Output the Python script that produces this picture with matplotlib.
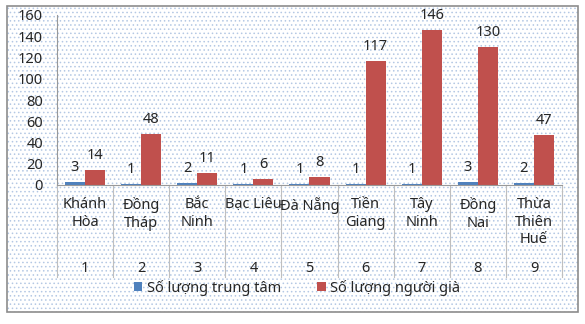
import matplotlib.pyplot as plt
import matplotlib.patches as mpatches
import numpy as np

plt.rcParams['font.family'] = ['Noto Sans', 'DejaVu Sans']
plt.rcParams['hatch.linewidth'] = 0.6

# Dữ liệu
tinh = ['Khánh\nHòa', 'Đồng\nTháp', 'Bắc\nNinh', 'Bạc Liêu', 'Đà Nẵng',
        'Tiền\nGiang', 'Tây\nNinh', 'Đồng\nNai', 'Thừa\nThiên\nHuế']
stt = ['1', '2', '3', '4', '5', '6', '7', '8', '9']
trung_tam = [3, 1, 2, 1, 1, 1, 1, 3, 2]
nguoi_gia = [14, 48, 11, 6, 8, 117, 146, 130, 47]
yticks = [0, 20, 40, 60, 80, 100, 120, 140, 160]

blue = '#4F81BD'
red = '#C0504D'
txt = '#262626'
W, H = 585, 324

fig = plt.figure(figsize=(W / 100, H / 100), dpi=100, facecolor='white')

# nền chấm và khung
bg = mpatches.Rectangle((7 / W, 1 - 312 / H), 571 / W, 306 / H, transform=fig.transFigure,
                        facecolor='white', edgecolor='#b4c8e4', hatch='....', linewidth=0, zorder=-5)
fig.patches.append(bg)
frame = mpatches.Rectangle((7 / W, 1 - 312 / H), 571 / W, 306 / H, transform=fig.transFigure,
                           facecolor='none', edgecolor='#8c8c8c', linewidth=1.2, zorder=5)
fig.patches.append(frame)

ax = fig.add_axes([57 / W, 1 - 185 / H, (562 - 57) / W, 170 / H])
ax.set_facecolor('none')

x = np.arange(len(tinh))
bw = 0.357
b1 = ax.bar(x - bw / 2, trung_tam, bw, color=blue, label='Số lượng trung tâm')
b2 = ax.bar(x + bw / 2, nguoi_gia, bw, color=red, label='Số lượng người già')

for bars, vals in ((b1, trung_tam), (b2, nguoi_gia)):
    for b, v in zip(bars, vals):
        ax.annotate(str(v), (b.get_x() + b.get_width() / 2, v), xytext=(0, 5),
                    textcoords='offset points', ha='center', va='bottom', fontsize=10.5,
                    color=txt)

ax.set_xlim(-0.5, len(tinh) - 0.5)
ax.set_ylim(0, 160)
ax.set_yticks(yticks)
ax.tick_params(axis='y', length=0, pad=10, labelsize=10.5, labelcolor=txt)
ax.set_xticks([])
for s in ['top', 'right']:
    ax.spines[s].set_visible(False)
ax.spines['left'].set_color('#999999')
ax.spines['bottom'].set_color('#999999')

# nhãn trục phân cấp
tr = ax.get_xaxis_transform()
for i in range(len(tinh)):
    ax.text(i, -0.07, tinh[i], transform=tr, ha='center', va='top', fontsize=10.5,
            linespacing=1.25, clip_on=False, color=txt)
    ax.text(i, -0.49, stt[i], transform=tr, ha='center', va='center', fontsize=10.5,
            clip_on=False, color=txt)
for b in np.arange(-0.5, len(tinh), 1.0):
    ax.plot([b, b], [0, -0.54], transform=tr, color='#bfbfbf', linewidth=0.8, clip_on=False)

leg = fig.legend(handles=[b1, b2], loc='center', bbox_to_anchor=(297 / W, 1 - 288 / H), ncol=2,
                 frameon=False, fontsize=10.5, handlelength=0.6, handleheight=0.6,
                 handletextpad=0.3, columnspacing=2.5)
for t in leg.get_texts():
    t.set_color(txt)

fig.savefig('out.png', dpi=100)
